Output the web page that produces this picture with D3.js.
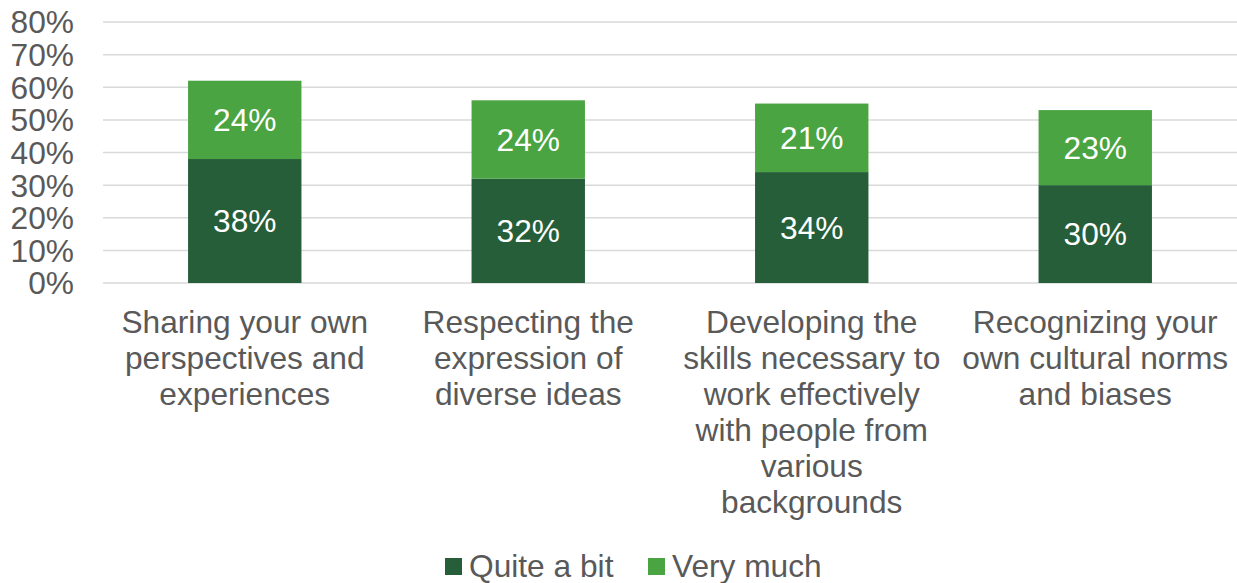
<!DOCTYPE html>
<html><head><meta charset="utf-8">
<script src="https://cdn.jsdelivr.net/npm/d3@7"></script>
<style>body{margin:0;background:#fff}svg{display:block}text{font-family:"Liberation Sans",Arial,sans-serif}</style>
</head><body><svg id="c" width="1237" height="583"></svg>
<script>
const categories = [
  ["Sharing your own","perspectives and","experiences"],
  ["Respecting the","expression of","diverse ideas"],
  ["Developing the","skills necessary to","work effectively","with people from","various","backgrounds"],
  ["Recognizing your","own cultural norms","and biases"]
];
const seriesNames = ["Quite a bit","Very much"];
const quiteABit = [38,32,34,30];
const veryMuch = [24,24,21,23];
const yTicks = [0,10,20,30,40,50,60,70,80];
const colors = ["#255E39","#4AA442"];
const FS = 31.7;

const svg = d3.select("#c");
const x = d3.scaleBand().domain(d3.range(categories.length)).range([103,1237]).paddingInner(0.6).paddingOuter(0.3);
const y = d3.scaleLinear().domain([0,80]).range([283,22]);

svg.append("g").selectAll("line").data(yTicks).join("line")
  .attr("x1",103).attr("x2",1237).attr("y1",d=>y(d)).attr("y2",d=>y(d))
  .attr("stroke","#d9d9d9").attr("stroke-width",1.5);

svg.append("g").selectAll("text").data(yTicks).join("text")
  .attr("x",74).attr("y",d=>y(d)).attr("dy","0.36em").attr("text-anchor","end")
  .attr("font-size",FS).attr("fill","#595959").text(d=>d+"%");

const stacks = [quiteABit, veryMuch];
stacks.forEach((vals,s)=>{
  const g = svg.append("g");
  vals.forEach((v,i)=>{
    const base = s===0?0:quiteABit[i];
    g.append("rect").attr("x",x(i)).attr("width",x.bandwidth())
      .attr("y",y(base+v)).attr("height",y(base)-y(base+v)).attr("fill",colors[s]);
    g.append("text").attr("x",x(i)+x.bandwidth()/2).attr("y",y(base+v/2)).attr("dy","0.36em")
      .attr("text-anchor","middle").attr("font-size",FS).attr("fill","#fff").text(v+"%");
  });
});

categories.forEach((lines,i)=>{
  const t = svg.append("text").attr("text-anchor","middle").attr("font-size",FS).attr("fill","#595959");
  lines.forEach((l,k)=>{
    t.append("tspan").attr("x",x(i)+x.bandwidth()/2).attr("y",322+k*36).attr("dy","0.36em").text(l);
  });
});

const leg = svg.append("g");
const legX = [445, 648];
seriesNames.forEach((n,i)=>{
  leg.append("rect").attr("x",legX[i]).attr("y",558).attr("width",17).attr("height",17).attr("fill",colors[i]);
  leg.append("text").attr("x",legX[i]+24).attr("y",566).attr("dy","0.36em").attr("font-size",FS).attr("fill","#595959").text(n);
});
</script></body></html>
